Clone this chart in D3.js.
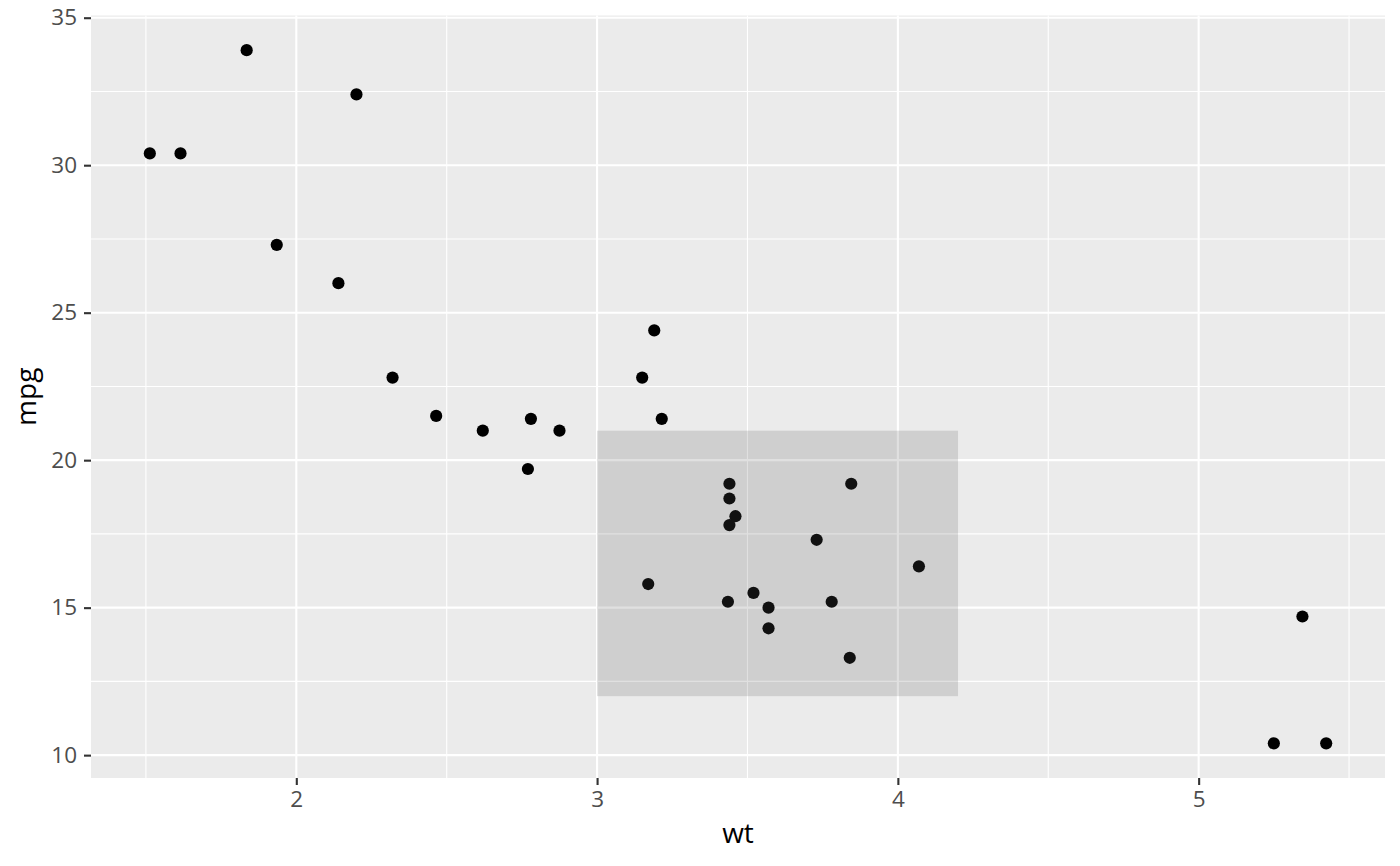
<!DOCTYPE html>
<html lang="en">
<head>
<meta charset="utf-8">
<title>mtcars: wt vs mpg</title>
<script src="https://d3js.org/d3.v7.min.js"></script>
<style>
  body { margin: 0; background: #fff; }
  text { font-family: "Open Sans", "Noto Sans", sans-serif; }
</style>
</head>
<body>
<script>
// data (mtcars)
const wt  = [2.620, 2.875, 2.320, 3.215, 3.440, 3.460, 3.570, 3.190, 3.150, 3.440, 3.440,
             4.070, 3.730, 3.780, 5.250, 5.424, 5.345, 2.200, 1.615, 1.835, 2.465, 3.520,
             3.435, 3.840, 3.845, 1.935, 2.140, 1.513, 3.170, 2.770, 3.570, 2.780];
const mpg = [21.0, 21.0, 22.8, 21.4, 18.7, 18.1, 14.3, 24.4, 22.8, 19.2, 17.8,
             16.4, 17.3, 15.2, 10.4, 10.4, 14.7, 32.4, 30.4, 33.9, 21.5, 15.5,
             15.2, 13.3, 19.2, 27.3, 26.0, 30.4, 15.8, 19.7, 15.0, 21.4];
const xTicks = [2, 3, 4, 5];
const yTicks = [10, 15, 20, 25, 30, 35];
const xMinor = [1.5, 2.5, 3.5, 4.5, 5.5];
const yMinor = [12.5, 17.5, 22.5, 27.5, 32.5];
const rectX = [3, 4.2];
const rectY = [12, 21];

const width = 1400, height = 866;
const panel = { left: 91, right: 1385, top: 15.5, bottom: 778 };

const pts = wt.map((w, i) => ({ wt: w, mpg: mpg[i] }));

// ggplot-style 5% expansion
const xr = d3.extent(wt), yr = d3.extent(mpg);
const xe = (xr[1] - xr[0]) * 0.05, ye = (yr[1] - yr[0]) * 0.05;

const x = d3.scaleLinear().domain([xr[0] - xe, xr[1] + xe]).range([panel.left, panel.right]);
const y = d3.scaleLinear().domain([yr[0] - ye, yr[1] + ye]).range([panel.bottom, panel.top]);

const svg = d3.select("body").append("svg")
  .attr("width", width).attr("height", height);

// panel background
svg.append("rect")
  .attr("x", panel.left).attr("y", panel.top)
  .attr("width", panel.right - panel.left)
  .attr("height", panel.bottom - panel.top)
  .attr("fill", "#EBEBEB");

// minor grid
svg.append("g").selectAll("line").data(xMinor).join("line")
  .attr("x1", d => x(d)).attr("x2", d => x(d))
  .attr("y1", panel.top).attr("y2", panel.bottom)
  .attr("stroke", "#fff").attr("stroke-width", 1.1);
svg.append("g").selectAll("line").data(yMinor).join("line")
  .attr("y1", d => y(d)).attr("y2", d => y(d))
  .attr("x1", panel.left).attr("x2", panel.right)
  .attr("stroke", "#fff").attr("stroke-width", 1.1);

// major grid
svg.append("g").selectAll("line").data(xTicks).join("line")
  .attr("x1", d => x(d)).attr("x2", d => x(d))
  .attr("y1", panel.top).attr("y2", panel.bottom)
  .attr("stroke", "#fff").attr("stroke-width", 2.1);
svg.append("g").selectAll("line").data(yTicks).join("line")
  .attr("y1", d => y(d)).attr("y2", d => y(d))
  .attr("x1", panel.left).attr("x2", panel.right)
  .attr("stroke", "#fff").attr("stroke-width", 2.1);

// points
svg.append("g").selectAll("circle").data(pts).join("circle")
  .attr("cx", d => x(d.wt))
  .attr("cy", d => y(d.mpg))
  .attr("r", 6.1)
  .attr("fill", "#000");

// annotate rect (on top of points)
svg.append("rect")
  .attr("x", x(rectX[0])).attr("y", y(rectY[1]))
  .attr("width", x(rectX[1]) - x(rectX[0]))
  .attr("height", y(rectY[0]) - y(rectY[1]))
  .attr("fill", "rgb(89,89,89)")
  .attr("fill-opacity", 0.19);

// axes
const xAxis = svg.append("g")
  .attr("transform", `translate(0,${panel.bottom})`)
  .call(d3.axisBottom(x).tickValues(xTicks).tickSize(7).tickPadding(6.5).tickFormat(d3.format("d")));
const yAxis = svg.append("g")
  .attr("transform", `translate(${panel.left},0)`)
  .call(d3.axisLeft(y).tickValues(yTicks).tickSize(7).tickPadding(7).tickFormat(d3.format("d")));

[xAxis, yAxis].forEach(g => {
  g.select(".domain").remove();
  g.selectAll(".tick line").attr("stroke", "#333").attr("stroke-width", 2.1);
  g.selectAll(".tick text")
    .attr("fill", "#4D4D4D")
    .attr("font-size", "22.5px")
    .attr("font-family", "'Open Sans', 'Noto Sans', sans-serif");
});

// axis titles
svg.append("text")
  .attr("x", (panel.left + panel.right) / 2)
  .attr("y", 842.5)
  .attr("text-anchor", "middle")
  .attr("font-size", "28px")
  .attr("fill", "#000")
  .text("wt");

svg.append("text")
  .attr("transform", `translate(36,${(panel.top + panel.bottom) / 2}) rotate(-90)`)
  .attr("text-anchor", "middle")
  .attr("font-size", "28px")
  .attr("fill", "#000")
  .text("mpg");
</script>
</body>
</html>
